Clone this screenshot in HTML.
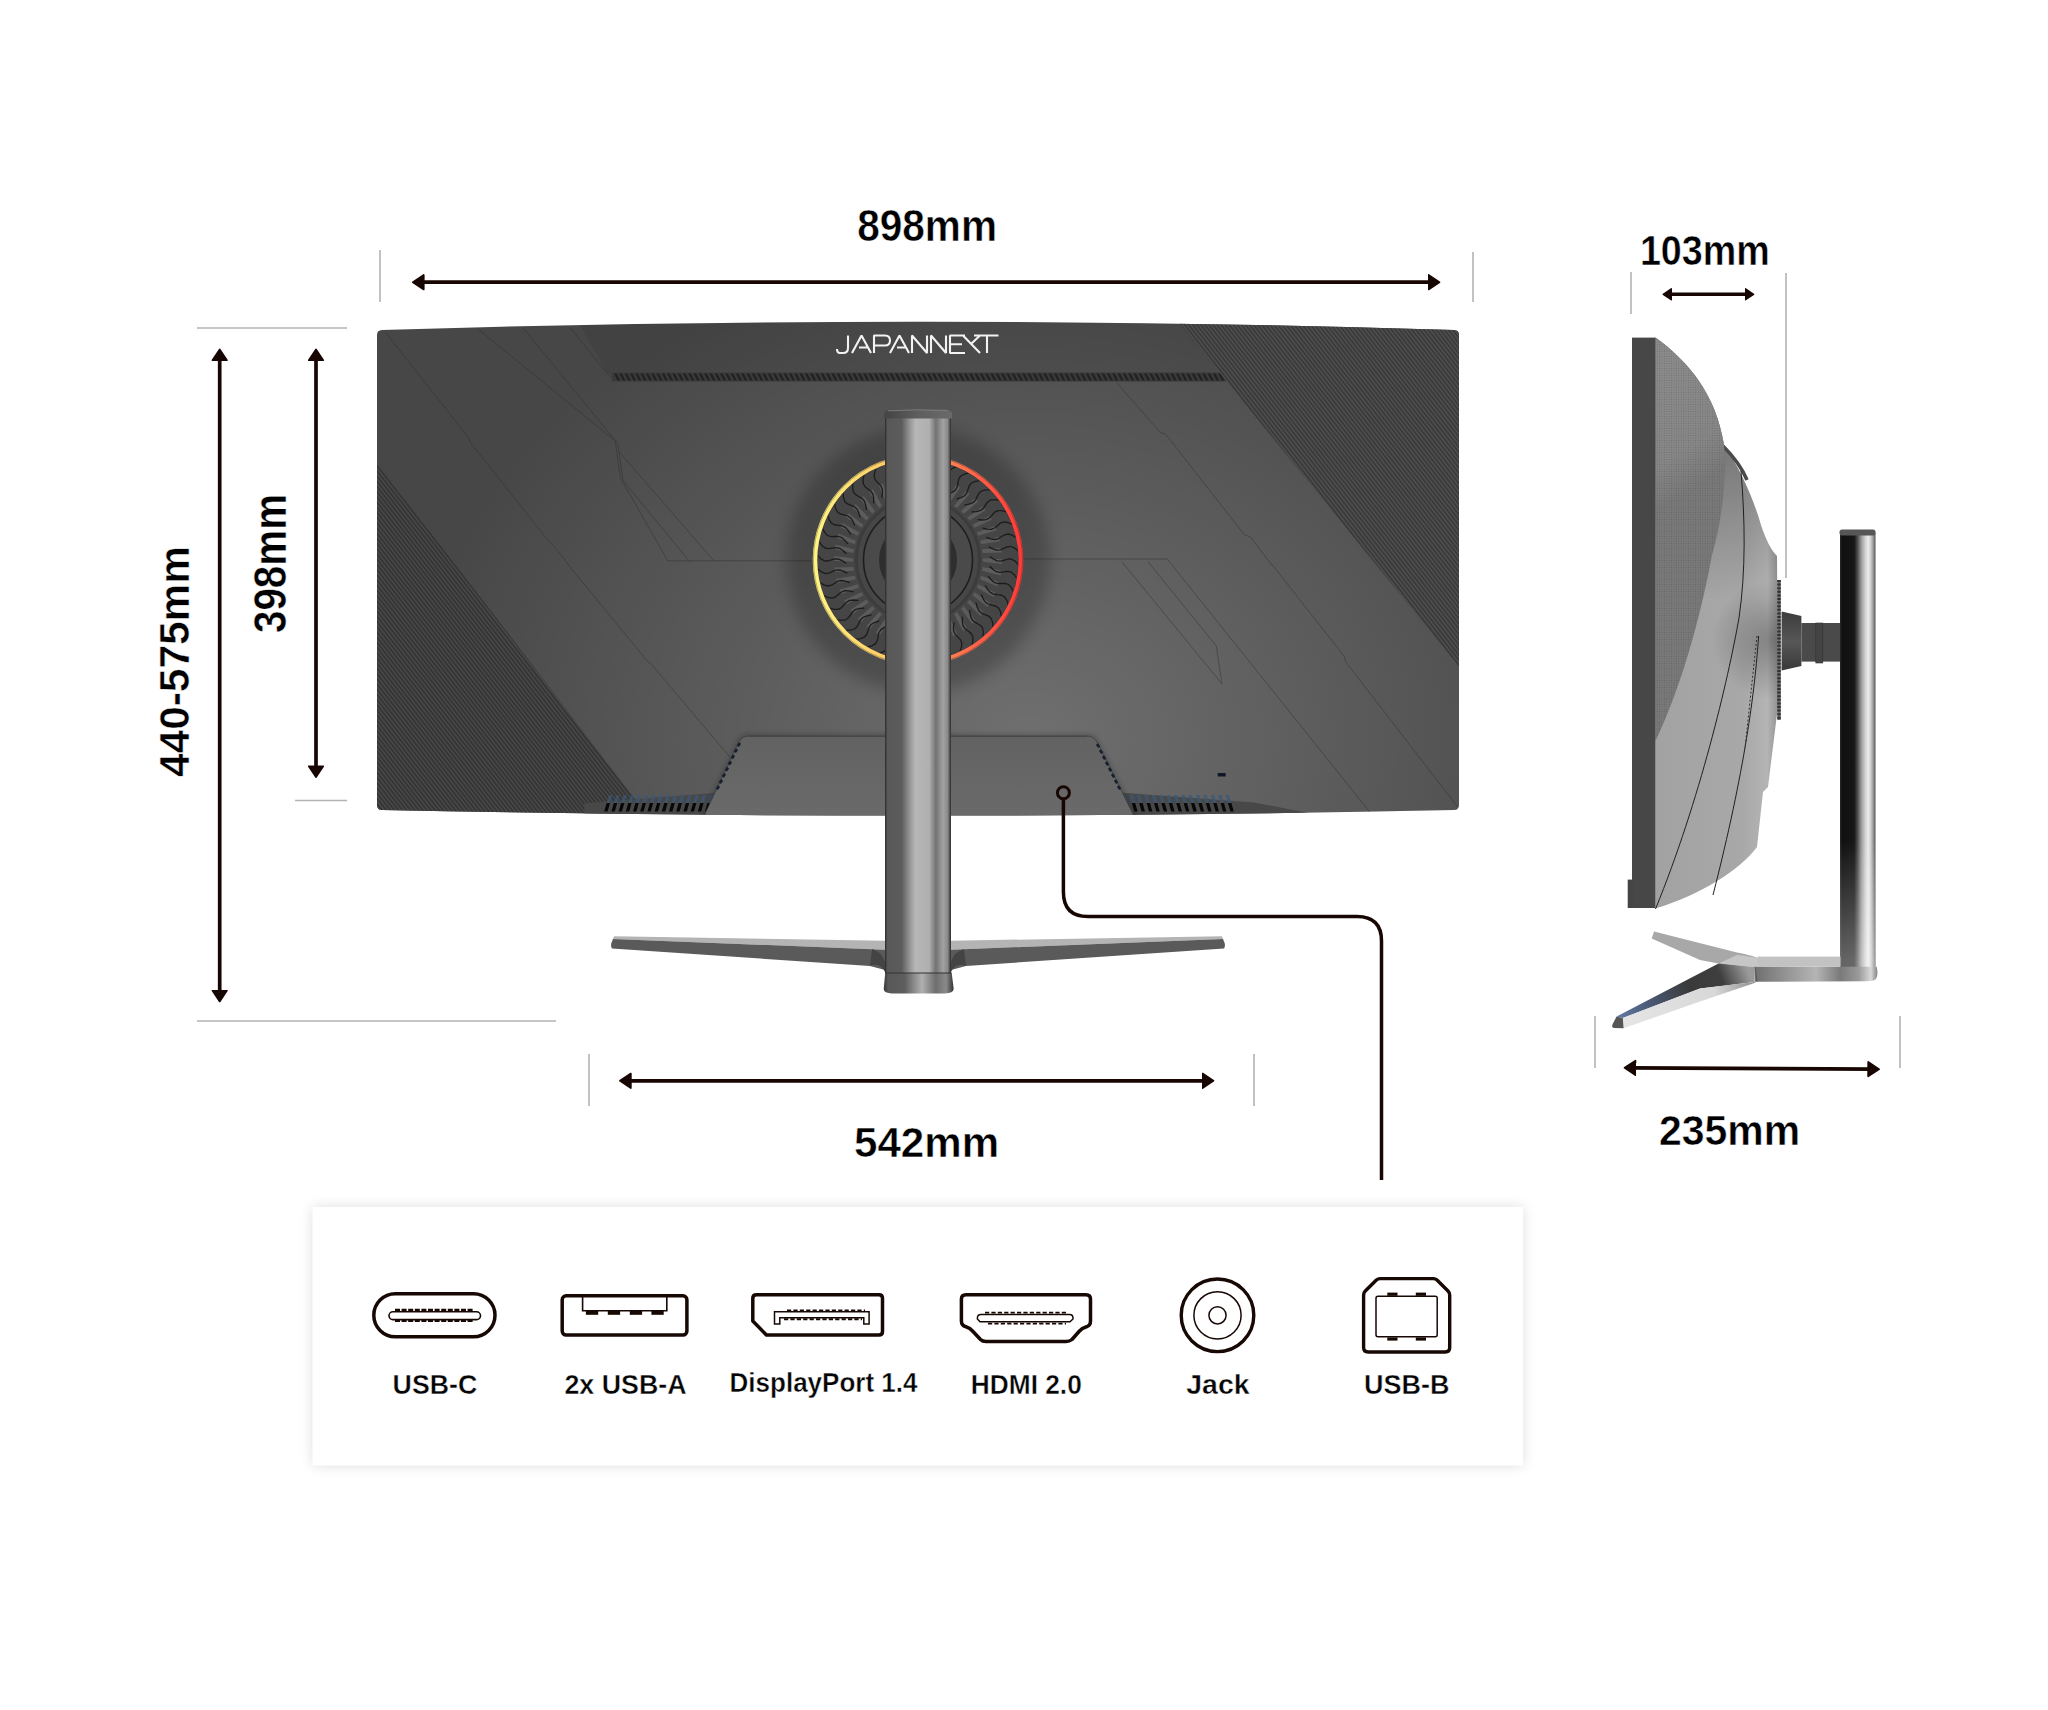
<!DOCTYPE html>
<html><head><meta charset="utf-8">
<style>
html,body{margin:0;padding:0;background:#fff;}
body{width:2048px;height:1710px;overflow:hidden;position:relative;}
svg{position:absolute;left:0;top:0;}
text{font-family:"Liberation Sans",sans-serif;font-weight:bold;}
</style></head><body>
<svg width="2048" height="1710" viewBox="0 0 2048 1710">
<defs>
  <marker id="ah" viewBox="0 0 13 17" refX="6.5" refY="8.5" markerWidth="13" markerHeight="17" markerUnits="userSpaceOnUse" orient="auto-start-reverse">
    <path d="M1.1 1.3 L11.9 8.5 L1.1 15.7 Z" fill="#170602" stroke="#170602" stroke-width="1.8" stroke-linejoin="round"/>
  </marker>
  <marker id="ahs" viewBox="0 0 10 13" refX="5" refY="6.5" markerWidth="10" markerHeight="13" markerUnits="userSpaceOnUse" orient="auto-start-reverse">
    <path d="M1 1.1 L9 6.5 L1 11.9 Z" fill="#170602" stroke="#170602" stroke-width="1.6" stroke-linejoin="round"/>
  </marker>
  <filter id="boxsh" x="-5%" y="-20%" width="110%" height="140%"><feGaussianBlur stdDeviation="7"/></filter>
  <filter id="blur2" x="-20%" y="-20%" width="140%" height="140%"><feGaussianBlur stdDeviation="2"/></filter>
  <filter id="blur6" x="-50%" y="-50%" width="200%" height="200%"><feGaussianBlur stdDeviation="8"/></filter>
  <pattern id="stripes" patternUnits="userSpaceOnUse" width="3.2" height="10" patternTransform="rotate(-38)">
    <rect width="3.2" height="10" fill="#474747"/>
    <rect width="1.5" height="10" fill="#333"/>
  </pattern>
  <pattern id="stripes2" patternUnits="userSpaceOnUse" width="3.2" height="10" patternTransform="rotate(-38)">
    <rect width="3.2" height="10" fill="#4d4d4d"/>
    <rect width="1.5" height="10" fill="#383838"/>
  </pattern>
  <pattern id="vent" patternUnits="userSpaceOnUse" width="5.4" height="10" patternTransform="rotate(-35)">
    <rect width="5.4" height="10" fill="#4a4a4a"/>
    <rect width="2.6" height="10" fill="#242424"/>
  </pattern>
  <radialGradient id="backg" gradientUnits="userSpaceOnUse" cx="1010" cy="740" r="620" fx="1010" fy="740">
    <stop offset="0" stop-color="#6f6f6f"/>
    <stop offset="0.45" stop-color="#5c5c5c"/>
    <stop offset="1" stop-color="#444"/>
  </radialGradient>
  <linearGradient id="topband" x1="0" y1="0" x2="0" y2="1">
    <stop offset="0" stop-color="#474747"/>
    <stop offset="1" stop-color="#424242"/>
  </linearGradient>
  <radialGradient id="ringsh" gradientUnits="userSpaceOnUse" cx="918" cy="560" r="160">
    <stop offset="0.6" stop-color="#000" stop-opacity="0.45"/>
    <stop offset="0.75" stop-color="#000" stop-opacity="0.22"/>
    <stop offset="1" stop-color="#000" stop-opacity="0"/>
  </radialGradient>
  <linearGradient id="ringc" gradientUnits="userSpaceOnUse" x1="815" y1="560" x2="1021" y2="560">
    <stop offset="0" stop-color="#fff484"/>
    <stop offset="0.3" stop-color="#ffd068"/>
    <stop offset="0.55" stop-color="#ff9858"/>
    <stop offset="0.8" stop-color="#ff6048"/>
    <stop offset="1" stop-color="#ff3a38"/>
  </linearGradient>
  <linearGradient id="colg" gradientUnits="userSpaceOnUse" x1="885" y1="0" x2="951" y2="0">
    <stop offset="0" stop-color="#2a2a2a"/>
    <stop offset="0.035" stop-color="#585858"/>
    <stop offset="0.25" stop-color="#5c5c5c"/>
    <stop offset="0.38" stop-color="#989898"/>
    <stop offset="0.46" stop-color="#b6b6b6"/>
    <stop offset="0.67" stop-color="#b0b0b0"/>
    <stop offset="0.77" stop-color="#727272"/>
    <stop offset="0.88" stop-color="#a2a2a2"/>
    <stop offset="0.95" stop-color="#8a8a8a"/>
    <stop offset="1" stop-color="#2a2a2a"/>
  </linearGradient>
  <linearGradient id="houseg" gradientUnits="userSpaceOnUse" x1="0" y1="736" x2="0" y2="816">
    <stop offset="0" stop-color="#626262"/>
    <stop offset="1" stop-color="#6a6a6a"/>
  </linearGradient>
  <clipPath id="monclip">
    <path d="M382 330 Q918 313.4 1454 330 Q1459 330.2 1459 335 L1459 805 Q1459 810 1454 810 Q918 821.2 382 810 Q377 810 377 805 L377 335 Q377 330.2 382 330 Z"/>
  </clipPath>
</defs>

<g stroke="#b3b3b3" stroke-width="1.6" fill="none">
  <line x1="380" y1="250" x2="380" y2="302"/>
  <line x1="1473" y1="252" x2="1473" y2="302"/>
  <line x1="197" y1="328" x2="347" y2="328"/>
  <line x1="295" y1="800.5" x2="347" y2="800.5"/>
  <line x1="197" y1="1021" x2="556" y2="1021"/>
  <line x1="589" y1="1054" x2="589" y2="1106"/>
  <line x1="1254" y1="1054" x2="1254" y2="1106"/>
  <line x1="1631" y1="272" x2="1631" y2="314"/>
  <line x1="1786" y1="273" x2="1786" y2="578"/>
  <line x1="1595" y1="1016" x2="1595" y2="1068"/>
  <line x1="1900" y1="1016" x2="1900" y2="1068"/>
</g>

<g stroke="#170602" stroke-width="3.7" fill="none" marker-start="url(#ah)" marker-end="url(#ah)">
  <line x1="418.3" y1="282.2" x2="1434" y2="282.2"/>
  <line x1="219.7" y1="354.8" x2="219.7" y2="996"/>
  <line x1="316" y1="354.8" x2="316" y2="771.7"/>
  <line x1="625.4" y1="1080.8" x2="1208" y2="1080.8"/>
  <line x1="1630" y1="1067.9" x2="1873.6" y2="1069.2"/>
</g>
<g stroke="#170602" stroke-width="3.4" fill="none" marker-start="url(#ahs)" marker-end="url(#ahs)">
  <line x1="1667.3" y1="294.3" x2="1749.5" y2="294.3"/>
</g>

<g fill="#000" stroke="#fff" stroke-width="0.5">
  <text x="857.2" y="240.5" font-size="44" textLength="139.8" lengthAdjust="spacingAndGlyphs">898mm</text>
  <text x="854" y="1156.5" font-size="43" textLength="145.1" lengthAdjust="spacingAndGlyphs">542mm</text>
  <text x="1639.9" y="264.5" font-size="42" textLength="129.9" lengthAdjust="spacingAndGlyphs">103mm</text>
  <text x="1659" y="1144.5" font-size="43" textLength="141.1" lengthAdjust="spacingAndGlyphs">235mm</text>
  <text transform="translate(188.5,777) rotate(-90)" x="0" y="0" font-size="43" textLength="231" lengthAdjust="spacingAndGlyphs">440-575mm</text>
  <text transform="translate(286.3,633) rotate(-90)" x="0" y="0" font-size="46" textLength="139" lengthAdjust="spacingAndGlyphs">398mm</text>
</g>

<defs>
  <radialGradient id="lite" gradientUnits="userSpaceOnUse" cx="1030" cy="740" r="540" gradientTransform="translate(1030 740) scale(1.15 0.95) translate(-1030 -740)">
    <stop offset="0" stop-color="#fff" stop-opacity="0.22"/>
    <stop offset="0.5" stop-color="#fff" stop-opacity="0.11"/>
    <stop offset="1" stop-color="#fff" stop-opacity="0"/>
  </radialGradient>
  <linearGradient id="darktop" x1="0" y1="0" x2="0" y2="1">
    <stop offset="0" stop-color="#000" stop-opacity="0.06"/>
    <stop offset="1" stop-color="#000" stop-opacity="0"/>
  </linearGradient>
</defs>
<g clip-path="url(#monclip)">
<rect x="370" y="310" width="1100" height="520" fill="#474747"/>
<rect x="370" y="310" width="1100" height="520" fill="url(#lite)"/>
<path d="M571 310 L1175 310 L1225 381 L612 381 Z" fill="#000" opacity="0.07"/>
<rect x="612" y="372.5" width="614" height="9" fill="#3a3a3a"/>
<path d="M614.0 373.5 L616.6 373.5 L620.2 380.5 L617.6 380.5 Z M619.3 373.5 L621.9 373.5 L625.5 380.5 L622.9 380.5 Z M624.6 373.5 L627.2 373.5 L630.8 380.5 L628.2 380.5 Z M629.9 373.5 L632.5 373.5 L636.1 380.5 L633.5 380.5 Z M635.2 373.5 L637.8 373.5 L641.4 380.5 L638.8 380.5 Z M640.5 373.5 L643.1 373.5 L646.7 380.5 L644.1 380.5 Z M645.8 373.5 L648.4 373.5 L652.0 380.5 L649.4 380.5 Z M651.1 373.5 L653.7 373.5 L657.3 380.5 L654.7 380.5 Z M656.4 373.5 L659.0 373.5 L662.6 380.5 L660.0 380.5 Z M661.7 373.5 L664.3 373.5 L667.9 380.5 L665.3 380.5 Z M667.0 373.5 L669.6 373.5 L673.2 380.5 L670.6 380.5 Z M672.3 373.5 L674.9 373.5 L678.5 380.5 L675.9 380.5 Z M677.6 373.5 L680.2 373.5 L683.8 380.5 L681.2 380.5 Z M682.9 373.5 L685.5 373.5 L689.1 380.5 L686.5 380.5 Z M688.2 373.5 L690.8 373.5 L694.4 380.5 L691.8 380.5 Z M693.5 373.5 L696.1 373.5 L699.7 380.5 L697.1 380.5 Z M698.8 373.5 L701.4 373.5 L705.0 380.5 L702.4 380.5 Z M704.1 373.5 L706.7 373.5 L710.3 380.5 L707.7 380.5 Z M709.4 373.5 L712.0 373.5 L715.6 380.5 L713.0 380.5 Z M714.7 373.5 L717.3 373.5 L720.9 380.5 L718.3 380.5 Z M720.0 373.5 L722.6 373.5 L726.2 380.5 L723.6 380.5 Z M725.3 373.5 L727.9 373.5 L731.5 380.5 L728.9 380.5 Z M730.6 373.5 L733.2 373.5 L736.8 380.5 L734.2 380.5 Z M735.9 373.5 L738.5 373.5 L742.1 380.5 L739.5 380.5 Z M741.2 373.5 L743.8 373.5 L747.4 380.5 L744.8 380.5 Z M746.5 373.5 L749.1 373.5 L752.7 380.5 L750.1 380.5 Z M751.8 373.5 L754.4 373.5 L758.0 380.5 L755.4 380.5 Z M757.1 373.5 L759.7 373.5 L763.3 380.5 L760.7 380.5 Z M762.4 373.5 L765.0 373.5 L768.6 380.5 L766.0 380.5 Z M767.7 373.5 L770.3 373.5 L773.9 380.5 L771.3 380.5 Z M773.0 373.5 L775.6 373.5 L779.2 380.5 L776.6 380.5 Z M778.3 373.5 L780.9 373.5 L784.5 380.5 L781.9 380.5 Z M783.6 373.5 L786.2 373.5 L789.8 380.5 L787.2 380.5 Z M788.9 373.5 L791.5 373.5 L795.1 380.5 L792.5 380.5 Z M794.2 373.5 L796.8 373.5 L800.4 380.5 L797.8 380.5 Z M799.5 373.5 L802.1 373.5 L805.7 380.5 L803.1 380.5 Z M804.8 373.5 L807.4 373.5 L811.0 380.5 L808.4 380.5 Z M810.1 373.5 L812.7 373.5 L816.3 380.5 L813.7 380.5 Z M815.4 373.5 L818.0 373.5 L821.6 380.5 L819.0 380.5 Z M820.7 373.5 L823.3 373.5 L826.9 380.5 L824.3 380.5 Z M826.0 373.5 L828.6 373.5 L832.2 380.5 L829.6 380.5 Z M831.3 373.5 L833.9 373.5 L837.5 380.5 L834.9 380.5 Z M836.6 373.5 L839.2 373.5 L842.8 380.5 L840.2 380.5 Z M841.9 373.5 L844.5 373.5 L848.1 380.5 L845.5 380.5 Z M847.2 373.5 L849.8 373.5 L853.4 380.5 L850.8 380.5 Z M852.5 373.5 L855.1 373.5 L858.7 380.5 L856.1 380.5 Z M857.8 373.5 L860.4 373.5 L864.0 380.5 L861.4 380.5 Z M863.1 373.5 L865.7 373.5 L869.3 380.5 L866.7 380.5 Z M868.4 373.5 L871.0 373.5 L874.6 380.5 L872.0 380.5 Z M873.7 373.5 L876.3 373.5 L879.9 380.5 L877.3 380.5 Z M879.0 373.5 L881.6 373.5 L885.2 380.5 L882.6 380.5 Z M884.3 373.5 L886.9 373.5 L890.5 380.5 L887.9 380.5 Z M889.6 373.5 L892.2 373.5 L895.8 380.5 L893.2 380.5 Z M894.9 373.5 L897.5 373.5 L901.1 380.5 L898.5 380.5 Z M900.2 373.5 L902.8 373.5 L906.4 380.5 L903.8 380.5 Z M905.5 373.5 L908.1 373.5 L911.7 380.5 L909.1 380.5 Z M910.8 373.5 L913.4 373.5 L917.0 380.5 L914.4 380.5 Z M916.1 373.5 L918.7 373.5 L922.3 380.5 L919.7 380.5 Z M921.4 373.5 L924.0 373.5 L927.6 380.5 L925.0 380.5 Z M926.7 373.5 L929.3 373.5 L932.9 380.5 L930.3 380.5 Z M932.0 373.5 L934.6 373.5 L938.2 380.5 L935.6 380.5 Z M937.3 373.5 L939.9 373.5 L943.5 380.5 L940.9 380.5 Z M942.6 373.5 L945.2 373.5 L948.8 380.5 L946.2 380.5 Z M947.9 373.5 L950.5 373.5 L954.1 380.5 L951.5 380.5 Z M953.2 373.5 L955.8 373.5 L959.4 380.5 L956.8 380.5 Z M958.5 373.5 L961.1 373.5 L964.7 380.5 L962.1 380.5 Z M963.8 373.5 L966.4 373.5 L970.0 380.5 L967.4 380.5 Z M969.1 373.5 L971.7 373.5 L975.3 380.5 L972.7 380.5 Z M974.4 373.5 L977.0 373.5 L980.6 380.5 L978.0 380.5 Z M979.7 373.5 L982.3 373.5 L985.9 380.5 L983.3 380.5 Z M985.0 373.5 L987.6 373.5 L991.2 380.5 L988.6 380.5 Z M990.3 373.5 L992.9 373.5 L996.5 380.5 L993.9 380.5 Z M995.6 373.5 L998.2 373.5 L1001.8 380.5 L999.2 380.5 Z M1000.9 373.5 L1003.5 373.5 L1007.1 380.5 L1004.5 380.5 Z M1006.2 373.5 L1008.8 373.5 L1012.4 380.5 L1009.8 380.5 Z M1011.5 373.5 L1014.1 373.5 L1017.7 380.5 L1015.1 380.5 Z M1016.8 373.5 L1019.4 373.5 L1023.0 380.5 L1020.4 380.5 Z M1022.1 373.5 L1024.7 373.5 L1028.3 380.5 L1025.7 380.5 Z M1027.4 373.5 L1030.0 373.5 L1033.6 380.5 L1031.0 380.5 Z M1032.7 373.5 L1035.3 373.5 L1038.9 380.5 L1036.3 380.5 Z M1038.0 373.5 L1040.6 373.5 L1044.2 380.5 L1041.6 380.5 Z M1043.3 373.5 L1045.9 373.5 L1049.5 380.5 L1046.9 380.5 Z M1048.6 373.5 L1051.2 373.5 L1054.8 380.5 L1052.2 380.5 Z M1053.9 373.5 L1056.5 373.5 L1060.1 380.5 L1057.5 380.5 Z M1059.2 373.5 L1061.8 373.5 L1065.4 380.5 L1062.8 380.5 Z M1064.5 373.5 L1067.1 373.5 L1070.7 380.5 L1068.1 380.5 Z M1069.8 373.5 L1072.4 373.5 L1076.0 380.5 L1073.4 380.5 Z M1075.1 373.5 L1077.7 373.5 L1081.3 380.5 L1078.7 380.5 Z M1080.4 373.5 L1083.0 373.5 L1086.6 380.5 L1084.0 380.5 Z M1085.7 373.5 L1088.3 373.5 L1091.9 380.5 L1089.3 380.5 Z M1091.0 373.5 L1093.6 373.5 L1097.2 380.5 L1094.6 380.5 Z M1096.3 373.5 L1098.9 373.5 L1102.5 380.5 L1099.9 380.5 Z M1101.6 373.5 L1104.2 373.5 L1107.8 380.5 L1105.2 380.5 Z M1106.9 373.5 L1109.5 373.5 L1113.1 380.5 L1110.5 380.5 Z M1112.2 373.5 L1114.8 373.5 L1118.4 380.5 L1115.8 380.5 Z M1117.5 373.5 L1120.1 373.5 L1123.7 380.5 L1121.1 380.5 Z M1122.8 373.5 L1125.4 373.5 L1129.0 380.5 L1126.4 380.5 Z M1128.1 373.5 L1130.7 373.5 L1134.3 380.5 L1131.7 380.5 Z M1133.4 373.5 L1136.0 373.5 L1139.6 380.5 L1137.0 380.5 Z M1138.7 373.5 L1141.3 373.5 L1144.9 380.5 L1142.3 380.5 Z M1144.0 373.5 L1146.6 373.5 L1150.2 380.5 L1147.6 380.5 Z M1149.3 373.5 L1151.9 373.5 L1155.5 380.5 L1152.9 380.5 Z M1154.6 373.5 L1157.2 373.5 L1160.8 380.5 L1158.2 380.5 Z M1159.9 373.5 L1162.5 373.5 L1166.1 380.5 L1163.5 380.5 Z M1165.2 373.5 L1167.8 373.5 L1171.4 380.5 L1168.8 380.5 Z M1170.5 373.5 L1173.1 373.5 L1176.7 380.5 L1174.1 380.5 Z M1175.8 373.5 L1178.4 373.5 L1182.0 380.5 L1179.4 380.5 Z M1181.1 373.5 L1183.7 373.5 L1187.3 380.5 L1184.7 380.5 Z M1186.4 373.5 L1189.0 373.5 L1192.6 380.5 L1190.0 380.5 Z M1191.7 373.5 L1194.3 373.5 L1197.9 380.5 L1195.3 380.5 Z M1197.0 373.5 L1199.6 373.5 L1203.2 380.5 L1200.6 380.5 Z M1202.3 373.5 L1204.9 373.5 L1208.5 380.5 L1205.9 380.5 Z M1207.6 373.5 L1210.2 373.5 L1213.8 380.5 L1211.2 380.5 Z M1212.9 373.5 L1215.5 373.5 L1219.1 380.5 L1216.5 380.5 Z M1218.2 373.5 L1220.8 373.5 L1224.4 380.5 L1221.8 380.5 Z M1223.5 373.5 L1226.1 373.5 L1229.7 380.5 L1227.1 380.5 Z" fill="#222"/>
<path d="M370 455 L377 462.3 L645 812 L370 830 Z" fill="url(#stripes)"/>
<path d="M1175 318 L1470 318 L1470 680 L1459 666.5 Z" fill="url(#stripes2)"/>
<g stroke="#2e2e2e" stroke-width="0.9" fill="none" opacity="0.5">
<path d="M386.2 333.2 L469.1 438.4 L470.4 442.4 L545.4 537.1 L558.6 551.6 L570.4 567.4 L648 662 L650.7 663.4 L729.6 756.8"/>
<path d="M478.3 329.2 L615.2 441 L620.4 477.9 L667.8 560.8 L814 560.8"/>
<path d="M523 327.9 L617.8 443.7 L623 480.5 L690 562"/>
<path d="M619 451.6 L713.8 560.8"/>
<path d="M570.4 327.9 L608.6 375.3"/>
<path d="M1116.7 382.6 L1160.5 432.8 L1165.6 434 L1244 534.4 L1250.5 537 L1271 564 L1273.7 566.6 L1344.5 656.6 L1345.7 661.8 L1457.7 807"/>
<path d="M1022 559 L1168 559"/>
<path d="M1121.8 561.7 L1222 684 L1216.3 646 L1148 561.7"/>
<path d="M1168 560 L1370 812.3"/>
</g>
<circle cx="918" cy="560" r="132" fill="#000" opacity="0.22" filter="url(#blur6)"/>
<path d="M584.4 803.2 L714.3 793 L706 816 L584.4 816 Z" fill="#484848"/>
<path d="M1122 792.8 L1254 802.5 L1324 816 L1131 816 Z" fill="#484848"/>
<path d="M606.6 803 L610.0 803 L607.6 811.5 L604.2 811.5 Z M613.8 803 L617.2 803 L614.8 811.5 L611.4 811.5 Z M621.0 803 L624.4 803 L622.0 811.5 L618.6 811.5 Z M628.2 803 L631.6 803 L629.2 811.5 L625.8 811.5 Z M635.4 803 L638.8 803 L636.4 811.5 L633.0 811.5 Z M642.6 803 L646.0 803 L643.6 811.5 L640.2 811.5 Z M649.8 803 L653.2 803 L650.8 811.5 L647.4 811.5 Z M657.0 803 L660.4 803 L658.0 811.5 L654.6 811.5 Z M664.2 803 L667.6 803 L665.2 811.5 L661.8 811.5 Z M671.4 803 L674.8 803 L672.4 811.5 L669.0 811.5 Z M678.6 803 L682.0 803 L679.6 811.5 L676.2 811.5 Z M685.8 803 L689.2 803 L686.8 811.5 L683.4 811.5 Z M693.0 803 L696.4 803 L694.0 811.5 L690.6 811.5 Z M700.2 803 L703.6 803 L701.2 811.5 L697.8 811.5 Z M707.4 803 L710.8 803 L708.4 811.5 L705.0 811.5 Z M1124.4 803 L1127.8 803 L1130.2 811.5 L1126.8 811.5 Z M1131.8 803 L1135.2 803 L1137.6 811.5 L1134.2 811.5 Z M1139.2 803 L1142.6 803 L1145.0 811.5 L1141.6 811.5 Z M1146.6 803 L1150.0 803 L1152.4 811.5 L1149.0 811.5 Z M1154.0 803 L1157.4 803 L1159.8 811.5 L1156.4 811.5 Z M1161.4 803 L1164.8 803 L1167.2 811.5 L1163.8 811.5 Z M1168.8 803 L1172.2 803 L1174.6 811.5 L1171.2 811.5 Z M1176.2 803 L1179.6 803 L1182.0 811.5 L1178.6 811.5 Z M1183.6 803 L1187.0 803 L1189.4 811.5 L1186.0 811.5 Z M1191.0 803 L1194.4 803 L1196.8 811.5 L1193.4 811.5 Z M1198.4 803 L1201.8 803 L1204.2 811.5 L1200.8 811.5 Z M1205.8 803 L1209.2 803 L1211.6 811.5 L1208.2 811.5 Z M1213.2 803 L1216.6 803 L1219.0 811.5 L1215.6 811.5 Z M1220.6 803 L1224.0 803 L1226.4 811.5 L1223.0 811.5 Z M1228.0 803 L1231.4 803 L1233.8 811.5 L1230.4 811.5 Z" fill="#080808"/>
<path d="M609.0 795.5 L612.4 795 L610.0 803 L606.6 803 Z M616.2 795.5 L619.6 795 L617.2 803 L613.8 803 Z M623.4 795.5 L626.8 795 L624.4 803 L621.0 803 Z M630.6 795.5 L634.0 795 L631.6 803 L628.2 803 Z M637.8 795.5 L641.2 795 L638.8 803 L635.4 803 Z M645.0 795.5 L648.4 795 L646.0 803 L642.6 803 Z M652.2 795.5 L655.6 795 L653.2 803 L649.8 803 Z M659.4 795.5 L662.8 795 L660.4 803 L657.0 803 Z M666.6 795.5 L670.0 795 L667.6 803 L664.2 803 Z M673.8 795.5 L677.2 795 L674.8 803 L671.4 803 Z M681.0 795.5 L684.4 795 L682.0 803 L678.6 803 Z M688.2 795.5 L691.6 795 L689.2 803 L685.8 803 Z M695.4 795.5 L698.8 795 L696.4 803 L693.0 803 Z M702.6 795.5 L706.0 795 L703.6 803 L700.2 803 Z M709.8 795.5 L713.2 795 L710.8 803 L707.4 803 Z M1122.0 795 L1125.4 795 L1127.8 803 L1124.4 803 Z M1129.4 795 L1132.8 795 L1135.2 803 L1131.8 803 Z M1136.8 795 L1140.2 795 L1142.6 803 L1139.2 803 Z M1144.2 795 L1147.6 795 L1150.0 803 L1146.6 803 Z M1151.6 795 L1155.0 795 L1157.4 803 L1154.0 803 Z M1159.0 795 L1162.4 795 L1164.8 803 L1161.4 803 Z M1166.4 795 L1169.8 795 L1172.2 803 L1168.8 803 Z M1173.8 795 L1177.2 795 L1179.6 803 L1176.2 803 Z M1181.2 795 L1184.6 795 L1187.0 803 L1183.6 803 Z M1188.6 795 L1192.0 795 L1194.4 803 L1191.0 803 Z M1196.0 795 L1199.4 795 L1201.8 803 L1198.4 803 Z M1203.4 795 L1206.8 795 L1209.2 803 L1205.8 803 Z M1210.8 795 L1214.2 795 L1216.6 803 L1213.2 803 Z M1218.2 795 L1221.6 795 L1224.0 803 L1220.6 803 Z M1225.6 795 L1229.0 795 L1231.4 803 L1228.0 803 Z" fill="#3a5878" opacity="0.75"/>
</g>
<circle cx="918" cy="560" r="103" fill="#454545"/>
<path d="M983.0 558.2 L1002.0 559.3 L1001.9 564.0 L983.0 561.8 Z M982.6 567.0 L1001.3 570.8 L1000.6 575.4 L982.1 570.7 Z M981.1 575.8 L999.1 582.0 L997.7 586.5 L980.1 579.3 Z M978.3 584.2 L995.3 592.8 L993.4 597.1 L976.9 587.6 Z M974.5 592.2 L990.1 603.1 L987.6 607.0 L972.6 595.3 Z M969.5 599.6 L983.6 612.5 L980.5 616.1 L967.3 602.4 Z M963.7 606.2 L975.8 620.9 L972.3 624.1 L961.0 608.7 Z M957.0 612.0 L967.0 628.2 L963.1 630.9 L954.0 614.1 Z M949.5 616.9 L957.2 634.3 L953.0 636.4 L946.3 618.5 Z M941.5 620.6 L946.8 638.9 L942.3 640.4 L938.0 621.8 Z M933.0 623.2 L935.7 642.1 L931.1 643.0 L929.4 624.0 Z M924.2 624.7 L924.4 643.8 L919.7 644.0 L920.6 624.9 Z M915.4 624.9 L912.9 643.8 L908.3 643.4 L911.8 624.7 Z M906.6 624.0 L901.6 642.4 L897.0 641.3 L903.0 623.2 Z M898.0 621.8 L890.5 639.4 L886.1 637.7 L894.5 620.6 Z M889.7 618.5 L880.0 634.9 L875.8 632.6 L886.5 616.9 Z M882.0 614.1 L870.1 629.0 L866.3 626.2 L879.0 612.0 Z M875.0 608.7 L861.2 621.8 L857.8 618.6 L872.3 606.2 Z M868.7 602.4 L853.3 613.5 L850.4 609.8 L866.5 599.6 Z M863.4 595.3 L846.6 604.2 L844.2 600.2 L861.5 592.2 Z M859.1 587.6 L841.2 594.1 L839.4 589.7 L857.7 584.2 Z M855.9 579.3 L837.3 583.3 L836.1 578.8 L854.9 575.8 Z M853.9 570.7 L834.9 572.1 L834.3 567.4 L853.4 567.0 Z M853.0 561.8 L834.0 560.7 L834.1 556.0 L853.0 558.2 Z M853.4 553.0 L834.7 549.2 L835.4 544.6 L853.9 549.3 Z M854.9 544.2 L836.9 538.0 L838.3 533.5 L855.9 540.7 Z M857.7 535.8 L840.7 527.2 L842.6 522.9 L859.1 532.4 Z M861.5 527.8 L845.9 516.9 L848.4 513.0 L863.4 524.7 Z M866.5 520.4 L852.4 507.5 L855.5 503.9 L868.7 517.6 Z M872.3 513.8 L860.2 499.1 L863.7 495.9 L875.0 511.3 Z M879.0 508.0 L869.0 491.8 L872.9 489.1 L882.0 505.9 Z M886.5 503.1 L878.8 485.7 L883.0 483.6 L889.7 501.5 Z M894.5 499.4 L889.2 481.1 L893.7 479.6 L898.0 498.2 Z M903.0 496.8 L900.3 477.9 L904.9 477.0 L906.6 496.0 Z M911.8 495.3 L911.6 476.2 L916.3 476.0 L915.4 495.1 Z M920.6 495.1 L923.1 476.2 L927.7 476.6 L924.2 495.3 Z M929.4 496.0 L934.4 477.6 L939.0 478.7 L933.0 496.8 Z M938.0 498.2 L945.5 480.6 L949.9 482.3 L941.5 499.4 Z M946.3 501.5 L956.0 485.1 L960.2 487.4 L949.5 503.1 Z M954.0 505.9 L965.9 491.0 L969.7 493.8 L957.0 508.0 Z M961.0 511.3 L974.8 498.2 L978.2 501.4 L963.7 513.8 Z M967.3 517.6 L982.7 506.5 L985.6 510.2 L969.5 520.4 Z M972.6 524.7 L989.4 515.8 L991.8 519.8 L974.5 527.8 Z M976.9 532.4 L994.8 525.9 L996.6 530.3 L978.3 535.8 Z M980.1 540.7 L998.7 536.7 L999.9 541.2 L981.1 544.2 Z M982.1 549.3 L1001.1 547.9 L1001.7 552.6 L982.6 553.0 Z" fill="#5c5c5c"/>
<path d="M989.7 566.3 L993.0 569.5 L996.4 571.7 L999.9 572.4 L1003.7 571.9 L1007.4 571.3 L1011.0 572.0 L1014.3 574.7 L1017.2 578.9 M988.2 576.1 L991.0 579.6 L994.1 582.3 L997.5 583.5 L1001.3 583.5 L1005.0 583.4 L1008.5 584.5 L1011.4 587.6 L1013.7 592.2 M985.3 585.5 L987.7 589.4 L990.3 592.4 L993.5 594.1 L997.3 594.6 L1001.0 595.0 L1004.3 596.6 L1006.7 600.1 L1008.4 605.0 M981.3 594.4 L983.0 598.6 L985.2 602.0 L988.2 604.0 L991.8 605.1 L995.5 606.0 L998.5 608.0 L1000.5 611.8 L1001.5 616.9 M976.0 602.7 L977.2 607.1 L978.9 610.7 L981.6 613.2 L985.0 614.7 L988.5 616.1 L991.2 618.6 L992.6 622.5 L992.9 627.7 M969.6 610.2 L970.2 614.7 L971.4 618.5 L973.7 621.4 L976.9 623.3 L980.2 625.2 L982.6 628.0 L983.4 632.1 L983.0 637.3 M962.3 616.7 L962.3 621.3 L962.9 625.3 L964.8 628.4 L967.8 630.8 L970.7 633.1 L972.7 636.1 L973.0 640.4 L971.9 645.4 M954.2 622.3 L953.5 626.8 L953.6 630.8 L955.1 634.1 L957.7 636.9 L960.3 639.6 L961.8 642.9 L961.5 647.1 L959.8 652.0 M945.4 626.6 L944.1 631.0 L943.7 635.0 L944.7 638.5 L946.8 641.6 L949.1 644.6 L950.1 648.1 L949.3 652.2 L946.9 656.8 M936.0 629.7 L934.2 633.9 L933.2 637.8 L933.7 641.4 L935.5 644.7 L937.3 648.0 L937.8 651.6 L936.4 655.6 L933.4 659.8 M926.4 631.5 L924.0 635.4 L922.5 639.1 L922.5 642.8 L923.8 646.3 L925.1 649.8 L925.2 653.5 L923.2 657.2 L919.7 661.0 M916.6 632.0 L913.7 635.5 L911.7 639.0 L911.2 642.6 L911.9 646.3 L912.8 650.0 L912.4 653.6 L910.0 657.0 L905.9 660.3 M906.8 631.1 L903.4 634.2 L901.0 637.4 L900.0 640.9 L900.3 644.7 L900.6 648.4 L899.7 651.9 L896.8 655.0 L892.4 657.7 M897.2 628.9 L893.5 631.5 L890.6 634.4 L889.2 637.7 L888.9 641.5 L888.7 645.2 L887.3 648.6 L884.1 651.3 L879.3 653.3 M888.0 625.5 L884.0 627.5 L880.7 629.9 L878.8 633.0 L878.1 636.7 L877.4 640.5 L875.6 643.6 L872.0 645.8 L867.0 647.2 M879.4 620.8 L875.1 622.3 L871.5 624.2 L869.3 627.0 L868.0 630.6 L866.8 634.2 L864.6 637.0 L860.7 638.7 L855.6 639.4 M871.5 614.9 L867.0 615.8 L863.2 617.3 L860.6 619.8 L858.9 623.1 L857.2 626.5 L854.6 629.0 L850.5 630.2 L845.3 630.2 M864.4 608.1 L859.9 608.4 L855.9 609.3 L853.0 611.4 L850.8 614.5 L848.7 617.6 L845.8 619.8 L841.6 620.4 L836.5 619.6 M858.4 600.3 L853.8 600.0 L849.8 600.4 L846.6 602.1 L844.0 604.8 L841.5 607.6 L838.3 609.4 L834.1 609.4 L829.1 607.9 M853.4 591.8 L849.0 590.9 L844.9 590.7 L841.5 592.0 L838.6 594.3 L835.7 596.8 L832.3 598.1 L828.1 597.5 L823.4 595.4 M849.7 582.7 L845.4 581.2 L841.4 580.5 L837.9 581.2 L834.7 583.2 L831.5 585.2 L827.9 586.0 L823.9 584.9 L819.5 582.2 M847.2 573.2 L843.2 571.1 L839.4 569.9 L835.7 570.1 L832.3 571.6 L828.8 573.2 L825.2 573.5 L821.4 571.9 L817.4 568.6 M846.1 563.5 L842.4 560.8 L838.8 559.1 L835.1 558.8 L831.5 559.9 L827.9 561.0 L824.3 560.8 L820.6 558.6 L817.1 554.8 M846.3 553.7 L843.0 550.5 L839.6 548.3 L836.1 547.6 L832.3 548.1 L828.6 548.7 L825.0 548.0 L821.7 545.3 L818.8 541.1 M847.8 543.9 L845.0 540.4 L841.9 537.7 L838.5 536.5 L834.7 536.5 L831.0 536.6 L827.5 535.5 L824.6 532.4 L822.3 527.8 M850.7 534.5 L848.3 530.6 L845.7 527.6 L842.5 525.9 L838.7 525.4 L835.0 525.0 L831.7 523.4 L829.3 519.9 L827.6 515.0 M854.7 525.6 L853.0 521.4 L850.8 518.0 L847.8 516.0 L844.2 514.9 L840.5 514.0 L837.5 512.0 L835.5 508.2 L834.5 503.1 M860.0 517.3 L858.8 512.9 L857.1 509.3 L854.4 506.8 L851.0 505.3 L847.5 503.9 L844.8 501.4 L843.4 497.5 L843.1 492.3 M866.4 509.8 L865.8 505.3 L864.6 501.5 L862.3 498.6 L859.1 496.7 L855.8 494.8 L853.4 492.0 L852.6 487.9 L853.0 482.7 M873.7 503.3 L873.7 498.7 L873.1 494.7 L871.2 491.6 L868.2 489.2 L865.3 486.9 L863.3 483.9 L863.0 479.6 L864.1 474.6 M881.8 497.7 L882.5 493.2 L882.4 489.2 L880.9 485.9 L878.3 483.1 L875.7 480.4 L874.2 477.1 L874.5 472.9 L876.2 468.0 M890.6 493.4 L891.9 489.0 L892.3 485.0 L891.3 481.5 L889.2 478.4 L886.9 475.4 L885.9 471.9 L886.7 467.8 L889.1 463.2 M900.0 490.3 L901.8 486.1 L902.8 482.2 L902.3 478.6 L900.5 475.3 L898.7 472.0 L898.2 468.4 L899.6 464.4 L902.6 460.2 M909.6 488.5 L912.0 484.6 L913.5 480.9 L913.5 477.2 L912.2 473.7 L910.9 470.2 L910.8 466.5 L912.8 462.8 L916.3 459.0 M919.4 488.0 L922.3 484.5 L924.3 481.0 L924.8 477.4 L924.1 473.7 L923.2 470.0 L923.6 466.4 L926.0 463.0 L930.1 459.7 M929.2 488.9 L932.6 485.8 L935.0 482.6 L936.0 479.1 L935.7 475.3 L935.4 471.6 L936.3 468.1 L939.2 465.0 L943.6 462.3 M938.8 491.1 L942.5 488.5 L945.4 485.6 L946.8 482.3 L947.1 478.5 L947.3 474.8 L948.7 471.4 L951.9 468.7 L956.7 466.7 M948.0 494.5 L952.0 492.5 L955.3 490.1 L957.2 487.0 L957.9 483.3 L958.6 479.5 L960.4 476.4 L964.0 474.2 L969.0 472.8 M956.6 499.2 L960.9 497.7 L964.5 495.8 L966.7 493.0 L968.0 489.4 L969.2 485.8 L971.4 483.0 L975.3 481.3 L980.4 480.6 M964.5 505.1 L969.0 504.2 L972.8 502.7 L975.4 500.2 L977.1 496.9 L978.8 493.5 L981.4 491.0 L985.5 489.8 L990.7 489.8 M971.6 511.9 L976.1 511.6 L980.1 510.7 L983.0 508.6 L985.2 505.5 L987.3 502.4 L990.2 500.2 L994.4 499.6 L999.5 500.4 M977.6 519.7 L982.2 520.0 L986.2 519.6 L989.4 517.9 L992.0 515.2 L994.5 512.4 L997.7 510.6 L1001.9 510.6 L1006.9 512.1 M982.6 528.2 L987.0 529.1 L991.1 529.3 L994.5 528.0 L997.4 525.7 L1000.3 523.2 L1003.7 521.9 L1007.9 522.5 L1012.6 524.6 M986.3 537.3 L990.6 538.8 L994.6 539.5 L998.1 538.8 L1001.3 536.8 L1004.5 534.8 L1008.1 534.0 L1012.1 535.1 L1016.5 537.8 M988.8 546.8 L992.8 548.9 L996.6 550.1 L1000.3 549.9 L1003.7 548.4 L1007.2 546.8 L1010.8 546.5 L1014.6 548.1 L1018.6 551.4 M989.9 556.5 L993.6 559.2 L997.2 560.9 L1000.9 561.2 L1004.5 560.1 L1008.1 559.0 L1011.7 559.2 L1015.4 561.4 L1018.9 565.2" stroke="#1c1c1c" stroke-width="1.3" fill="none" stroke-linejoin="round"/>
<circle cx="918" cy="560" r="61.5" fill="#474747" stroke="#3c3c3c" stroke-width="3"/>
<circle cx="918" cy="560" r="54.5" fill="#4a4a4a" stroke="#1e1e1e" stroke-width="1.6"/>
<circle cx="918" cy="560" r="39" fill="#2e2e2e"/>
<circle cx="918" cy="560" r="101" fill="none" stroke="#3a3a3a" stroke-width="1.5"/>
<circle cx="918" cy="560" r="103" fill="none" stroke="url(#ringc)" stroke-width="4.6"/>
<circle cx="918" cy="560" r="104.6" fill="none" stroke="#2a2a2a" stroke-width="0.6" opacity="0.6"/>
<g clip-path="url(#monclip)">
<path d="M703 818 L739 742 Q742 736 749 736 L1087 736 Q1094 736 1097 742 L1135 818 Z" fill="none" stroke="#000" stroke-width="5" opacity="0.18" filter="url(#blur2)"/>
<path d="M703 818 L739 742 Q742 736 749 736 L1087 736 Q1094 736 1097 742 L1135 818 Z" fill="url(#houseg)"/>
<path d="M703 818 L739 742 Q742 736 749 736 L1087 736 Q1094 736 1097 742 L1135 818" fill="none" stroke="#3a3a3a" stroke-width="1" opacity="0.7"/>
<path d="M749 736.5 L1087 736.5" stroke="#3c3c3c" stroke-width="1" opacity="0.5"/>
<path d="M740.0 743.0 L737.8 746.2 M1097.0 744.0 L1099.2 747.2 M737.0 749.1 L734.8 752.3 M1100.0 750.0 L1102.2 753.2 M734.0 755.3 L731.8 758.5 M1103.0 756.0 L1105.2 759.2 M731.0 761.4 L728.8 764.6 M1106.0 762.0 L1108.2 765.2 M728.0 767.6 L725.8 770.8 M1109.0 768.0 L1111.2 771.2 M725.0 773.7 L722.8 776.9 M1112.0 774.0 L1114.2 777.2 M722.0 779.9 L719.8 783.1 M1115.0 780.0 L1117.2 783.2 M719.0 786.0 L716.8 789.2 M1118.0 786.0 L1120.2 789.2" stroke="#182030" stroke-width="2.8" fill="none"/>
<rect x="1217.7" y="773" width="8" height="3.5" fill="#101828"/>
</g>
<path d="M848 335.5 L848 348 Q848 353 843 353 L840 353 Q837 353 837 349 M852.0 353.0 L861.5 335.5 L871.0 353.0 M859.0 347.5 L868.0 347.5 M874 353 L874 335.5 L885 335.5 Q890 335.5 890 340.5 Q890 345.5 885 345.5 L874 345.5 M890.0 353.0 L899.5 335.5 L909.0 353.0 M897.0 347.5 L906.0 347.5 M912.0 353.0 L912.0 335.5 L927.0 353.0 L927.0 335.5 M931.0 353.0 L931.0 335.5 L946.0 353.0 L946.0 335.5 M965.0 335.5 L950.0 335.5 L950.0 353.0 L965.0 353.0 M950.0 344.3 L962.0 344.3 M963.0 335.5 L980.0 353.0 M971.0 344.0 L980.0 335.5 M974.0 335.5 L998.5 335.5 M987.0 335.5 L987.0 353.0" stroke="#f2f2f2" stroke-width="2.1" fill="none" stroke-linejoin="bevel"/>
<defs><linearGradient id="footg" gradientUnits="userSpaceOnUse" x1="884" y1="0" x2="953" y2="0">
    <stop offset="0" stop-color="#3a3a3a"/>
    <stop offset="0.06" stop-color="#585858"/>
    <stop offset="0.3" stop-color="#5e5e5e"/>
    <stop offset="0.55" stop-color="#b0b0b0"/>
    <stop offset="0.75" stop-color="#6e6e6e"/>
    <stop offset="0.9" stop-color="#8a8a8a"/>
    <stop offset="1" stop-color="#3a3a3a"/>
  </linearGradient></defs>
<path d="M614 936.3 L885 940.7 L885 949.7 L613 939 Z" fill="#b4b4b4"/>
<path d="M613 939 L885 949.7 L885 970 L870 966 L612 948.5 Q610.5 946 611.4 943 Z" fill="#5a5a5a"/>
<path d="M1222 936.3 L951 940.7 L951 949.7 L1223 939 Z" fill="#b4b4b4"/>
<path d="M1223 939 L951 949.7 L951 970 L966 966 L1224 948.5 Q1225.5 946 1224.6 943 Z" fill="#5a5a5a"/>
<path d="M872 949 Q882 952 885 962 L885 972 Q880 962 870 966 Z" fill="#444"/>
<path d="M964 949 Q954 952 951 962 L951 972 Q956 962 966 966 Z" fill="#444"/>
<path d="M885 414 Q885 411 888 411 L948 411 Q951 411 951 414 L951 973 L885 973 Z" fill="url(#colg)"/>
<defs><linearGradient id="capg" gradientUnits="userSpaceOnUse" x1="884" y1="0" x2="952" y2="0"><stop offset="0" stop-color="#444"/><stop offset="0.5" stop-color="#5e5e5e"/><stop offset="1" stop-color="#6a6a6a"/></linearGradient></defs>
<path d="M884.2 413 Q886 409.5 892 409.5 L944 409.5 Q950 409.5 952 413 L952 418.4 L884.2 418.4 Z" fill="url(#capg)"/>
<path d="M888 410.8 Q918 408.8 948 410.8" stroke="#7a7a7a" stroke-width="1" fill="none"/>
<path d="M885.2 973 L951.7 973 L953.7 989 Q953 993.4 945 993.4 L892 993.4 Q884 993.4 883.7 989 Z" fill="url(#footg)"/>
<path d="M885.2 973 L951.7 973" stroke="#333" stroke-width="1"/>
<path d="M1063.4 800 L1063.4 892 Q1063.4 916.5 1088 916.5 L1357 916.5 Q1381.5 916.5 1381.5 941 L1381.5 1180" stroke="#170602" stroke-width="3.5" fill="none"/>
<circle cx="1063.4" cy="792.8" r="6" stroke="#170602" stroke-width="3" fill="none"/>
<defs>
  <linearGradient id="shellg" gradientUnits="userSpaceOnUse" x1="1655" y1="0" x2="1780" y2="0">
    <stop offset="0" stop-color="#a2a2a2"/>
    <stop offset="0.7" stop-color="#a8a8a8"/>
    <stop offset="0.9" stop-color="#b4b4b4"/>
    <stop offset="1" stop-color="#8c8c8c"/>
  </linearGradient>
  <pattern id="dots" patternUnits="userSpaceOnUse" width="2.4" height="2.4">
    <rect width="2.4" height="2.4" fill="#8a8a8a"/>
    <circle cx="1.2" cy="1.2" r="0.55" fill="#727272"/>
  </pattern>
  <linearGradient id="texshade" gradientUnits="userSpaceOnUse" x1="1660" y1="360" x2="1725" y2="470">
    <stop offset="0" stop-color="#000" stop-opacity="0"/>
    <stop offset="0.7" stop-color="#000" stop-opacity="0.05"/>
    <stop offset="1" stop-color="#000" stop-opacity="0.25"/>
  </linearGradient>
  <linearGradient id="poleg" gradientUnits="userSpaceOnUse" x1="1840" y1="0" x2="1875.5" y2="0">
    <stop offset="0" stop-color="#2a2a2a"/>
    <stop offset="0.06" stop-color="#101010"/>
    <stop offset="0.4" stop-color="#161616"/>
    <stop offset="0.5" stop-color="#505050"/>
    <stop offset="0.6" stop-color="#9a9a9a"/>
    <stop offset="0.72" stop-color="#d4d4d4"/>
    <stop offset="0.8" stop-color="#ececec"/>
    <stop offset="0.88" stop-color="#c4c4c4"/>
    <stop offset="0.95" stop-color="#8a8a8a"/>
    <stop offset="1" stop-color="#505050"/>
  </linearGradient>
  <linearGradient id="polelow" gradientUnits="userSpaceOnUse" x1="0" y1="840" x2="0" y2="960">
    <stop offset="0" stop-color="#fff" stop-opacity="0"/>
    <stop offset="1" stop-color="#fff" stop-opacity="0.35"/>
  </linearGradient>
  <linearGradient id="plateg" gradientUnits="userSpaceOnUse" x1="1755" y1="0" x2="1877" y2="0">
    <stop offset="0" stop-color="#707070"/>
    <stop offset="0.3" stop-color="#9a9a9a"/>
    <stop offset="0.5" stop-color="#b4b4b4"/>
    <stop offset="0.7" stop-color="#7a7a7a"/>
    <stop offset="0.85" stop-color="#9a9a9a"/>
    <stop offset="0.95" stop-color="#d8d8d8"/>
    <stop offset="1" stop-color="#888"/>
  </linearGradient>
  <linearGradient id="legtop" gradientUnits="userSpaceOnUse" x1="1745" y1="965" x2="1620" y2="1017">
    <stop offset="0" stop-color="#9a9a9a"/>
    <stop offset="0.2" stop-color="#3e3e3e"/>
    <stop offset="0.45" stop-color="#3a3a3a"/>
    <stop offset="0.75" stop-color="#4a5874"/>
    <stop offset="1" stop-color="#6078a0"/>
  </linearGradient>
  <linearGradient id="legbot" gradientUnits="userSpaceOnUse" x1="1756" y1="980" x2="1620" y2="1025">
    <stop offset="0" stop-color="#8c8c8c"/>
    <stop offset="0.3" stop-color="#d8d8d8"/>
    <stop offset="1" stop-color="#e6e6e6"/>
  </linearGradient>
  <linearGradient id="mountg" gradientUnits="userSpaceOnUse" x1="0" y1="612" x2="0" y2="671">
    <stop offset="0" stop-color="#3c3c3c"/>
    <stop offset="0.5" stop-color="#575757"/>
    <stop offset="1" stop-color="#383838"/>
  </linearGradient>
</defs>
<path d="M1655.5 337.6 C1690 363 1716 395 1724 445 C1740 468 1754 500 1761 525 C1766 540 1771 550 1777 556 L1778 706 L1768 787 L1763 792 L1757 847 C1740 870 1700 895 1657 908 L1655.5 908 Z" fill="url(#shellg)"/>
<radialGradient id="mountsh" gradientUnits="userSpaceOnUse" cx="1772" cy="640" r="60"><stop offset="0" stop-color="#000" stop-opacity="0.28"/><stop offset="1" stop-color="#000" stop-opacity="0"/></radialGradient>
<path d="M1655.5 337.6 C1690 363 1716 395 1724 445 C1740 468 1754 500 1761 525 C1766 540 1771 550 1777 556 L1778 706 L1768 787 L1763 792 L1757 847 C1740 870 1700 895 1657 908 L1655.5 908 Z" fill="url(#mountsh)"/>
<linearGradient id="uppersh" gradientUnits="userSpaceOnUse" x1="0" y1="440" x2="0" y2="600"><stop offset="0" stop-color="#000" stop-opacity="0.3"/><stop offset="1" stop-color="#000" stop-opacity="0"/></linearGradient>
<path d="M1655.5 337.6 C1690 363 1716 395 1724 445 C1740 468 1754 500 1761 525 C1766 540 1771 550 1777 556 L1778 620 L1655 620 Z" fill="url(#uppersh)"/>
<path d="M1723 446 C1733 456 1742 468 1747 480" stroke="#4a4a4a" stroke-width="3.5" fill="none"/>
<path d="M1655.5 337.6 C1690 363 1716 395 1724 445 C1727 480 1722 520 1712 555 C1700 620 1680 690 1655.5 741 Z" fill="url(#dots)"/>
<path d="M1655.5 337.6 C1690 363 1716 395 1724 445 C1727 480 1722 520 1712 555 C1700 620 1680 690 1655.5 741 Z" fill="url(#texshade)" opacity="0.5"/>
<path d="M1741 471 C1745 520 1746 570 1739 618 C1728 680 1700 800 1655.5 909" stroke="#202020" stroke-width="1" fill="none"/>
<path d="M1758.6 636 C1755 690 1745 770 1713 895" stroke="#202020" stroke-width="1" fill="none"/>
<path d="M1757 636 L1745 748" stroke="#303030" stroke-width="1" stroke-dasharray="2 2" fill="none"/>
<path d="M1779 580 L1779 720" stroke="#6a6a6a" stroke-width="3.5" fill="none"/>
<path d="M1779 580 L1779 720" stroke="#333" stroke-width="3.5" stroke-dasharray="2 1.6" fill="none"/>
<rect x="1632" y="337.6" width="23.5" height="570.4" fill="#474747"/>
<rect x="1627.7" y="879.6" width="5" height="28.4" fill="#454545"/>
<path d="M1781.6 611.6 L1801.4 616 L1801.4 666 L1781.6 670.5 Z" fill="url(#mountg)"/>
<rect x="1801.4" y="623" width="39" height="38.6" fill="#4a4a4a"/>
<rect x="1815.8" y="623" width="7" height="40" fill="#444" stroke="#333" stroke-width="0.6"/>
<path d="M1840 534 Q1840 530.5 1845 530.5 L1871 530.5 Q1875.5 530.5 1875.5 534 L1875.5 967 L1840 967 Z" fill="url(#poleg)"/>
<rect x="1840" y="840" width="35.5" height="127" fill="url(#polelow)"/>
<rect x="1839.5" y="529.5" width="36" height="6" rx="2.5" fill="#565656"/>
<path d="M1654 931.4 L1737 952.5 Q1760 957 1763 961 L1718.5 963.6 L1700 960 L1651.7 938.4 Z" fill="#a8a8a8"/>
<path d="M1718.5 963.6 L1737 955 Q1760 957 1763 961 L1757.5 966.5 L1754.7 967 Z" fill="#c6c6c6"/>
<rect x="1757.5" y="956.6" width="83" height="10" fill="#c2c2c2"/>
<path d="M1754.3 966.8 L1876.7 966.8 Q1878.5 975 1876 979 Q1874 981.2 1866 981.2 L1755 981.8 Z" fill="url(#plateg)"/>
<line x1="1755" y1="967" x2="1757" y2="981.5" stroke="#5a5a5a" stroke-width="1.2"/>
<path d="M1754.7 967 L1718.5 963.6 L1616.6 1016.6 L1622.8 1018 L1700 988.6 L1754.7 982 Z" fill="url(#legtop)"/>
<path d="M1754.7 982 L1700 988.6 L1622.8 1018 L1623.6 1028.3 L1700 1001.5 L1756 982.5 Z" fill="url(#legbot)"/>
<path d="M1616.6 1016.6 L1622.8 1018 L1623.6 1028.3 L1614 1028 Q1611 1027 1612.7 1024 Z" fill="#555"/>
<rect x="312.5" y="1207" width="1210.5" height="258.5" fill="#000" opacity="0.13" filter="url(#boxsh)"/>
<rect x="312.5" y="1207" width="1210.5" height="258.5" fill="#fff"/>
<rect x="373.8" y="1293.8" width="121.2" height="43" rx="21.5" fill="none" stroke="#170804" stroke-width="3.5"/>
<rect x="389" y="1311.8" width="91.5" height="7.8" rx="3.9" fill="none" stroke="#170804" stroke-width="1.6"/>
<line x1="395" y1="1310.2" x2="474" y2="1310.2" stroke="#170804" stroke-width="3" stroke-dasharray="5 1.6"/>
<line x1="395" y1="1320.6" x2="474" y2="1320.6" stroke="#170804" stroke-width="3" stroke-dasharray="5 1.6"/>
<rect x="562.2" y="1295.8" width="124.7" height="39.3" rx="4" fill="none" stroke="#170804" stroke-width="3.5"/>
<path d="M582.6 1297 L582.6 1310.8 L666.8 1310.8 L666.8 1297" fill="none" stroke="#170804" stroke-width="1.6"/>
<rect x="585.9" y="1310.8" width="12.3" height="4" fill="#170804"/>
<rect x="607.8" y="1310.8" width="12.3" height="4" fill="#170804"/>
<rect x="629.8" y="1310.8" width="12.3" height="4" fill="#170804"/>
<rect x="651.4" y="1310.8" width="12.3" height="4" fill="#170804"/>
<path d="M756.5 1294.7 L879 1294.7 Q882.5 1294.7 882.5 1298.2 L882.5 1331.5 Q882.5 1335 879 1335 L766.4 1335 L752.8 1321 L752.8 1298.2 Q752.8 1294.7 756.5 1294.7 Z" fill="none" stroke="#170804" stroke-width="3.5" stroke-linejoin="round"/>
<path d="M774.5 1311.8 L869.1 1311.8 L869.1 1324 L863.8 1324 L863.8 1317.8 L779.8 1317.8 L779.8 1324 L774.5 1324 Z" fill="none" stroke="#170804" stroke-width="1.5"/>
<line x1="787" y1="1310.6" x2="865" y2="1310.6" stroke="#170804" stroke-width="2" stroke-dasharray="4.2 2.2"/>
<line x1="784" y1="1319.2" x2="862" y2="1319.2" stroke="#170804" stroke-width="2" stroke-dasharray="4.2 2.2"/>
<path d="M966 1294.7 L1086 1294.7 Q1090.5 1294.7 1090.5 1299.2 L1090.5 1321 Q1090.5 1325.5 1086.5 1326.8 Q1082 1328 1079 1331.5 L1072 1339.5 Q1069.5 1341.5 1066 1341.5 L986 1341.5 Q982.5 1341.5 980.5 1339.5 L973 1331.5 Q970 1328 966 1326.8 Q961.4 1325.5 961.4 1321 L961.4 1299.2 Q961.4 1294.7 966 1294.7 Z" fill="none" stroke="#170804" stroke-width="3.5" stroke-linejoin="round"/>
<path d="M981 1314.5 L1069.5 1314.5 Q1073 1314.5 1073 1318 L1073 1319 L1070 1321.8 L980 1321.8 L977.4 1319 L977.4 1318 Q977.4 1314.5 981 1314.5 Z" fill="none" stroke="#170804" stroke-width="1.5"/>
<line x1="985" y1="1312.6" x2="1068" y2="1312.6" stroke="#170804" stroke-width="1.8" stroke-dasharray="4.2 2.2"/>
<line x1="988" y1="1323.7" x2="1066" y2="1323.7" stroke="#170804" stroke-width="1.8" stroke-dasharray="4.2 2.2"/>
<circle cx="1217.5" cy="1315.3" r="36.3" fill="none" stroke="#170804" stroke-width="3.4"/>
<circle cx="1217.5" cy="1315.3" r="23.6" fill="none" stroke="#170804" stroke-width="1.5"/>
<circle cx="1217.5" cy="1315.3" r="8.6" fill="none" stroke="#170804" stroke-width="1.5"/>
<path d="M1380 1278.6 L1433.5 1278.6 Q1435.5 1278.6 1437 1280 L1448 1291 Q1449.7 1292.7 1449.7 1295 L1449.7 1347.5 Q1449.7 1352 1445.2 1352 L1368.2 1352 Q1363.6 1352 1363.6 1347.5 L1363.6 1295 Q1363.6 1292.7 1365.3 1291 L1376.4 1280 Q1378 1278.6 1380 1278.6 Z" fill="none" stroke="#170804" stroke-width="3.4" stroke-linejoin="round"/>
<rect x="1376" y="1296.3" width="61.2" height="40.5" rx="2" fill="none" stroke="#170804" stroke-width="1.5"/>
<rect x="1387.3" y="1292.6" width="10.2" height="3.2" fill="#170804"/>
<rect x="1387.3" y="1337.4" width="10.2" height="3.2" fill="#170804"/>
<rect x="1415.8" y="1292.6" width="10.2" height="3.2" fill="#170804"/>
<rect x="1415.8" y="1337.4" width="10.2" height="3.2" fill="#170804"/>
<g fill="#050505" font-size="28.5" stroke="#fff" stroke-width="0.4">
<text x="392.6" y="1393.5" textLength="84.6" lengthAdjust="spacingAndGlyphs">USB-C</text>
<text x="564.4" y="1393.5" textLength="122.2" lengthAdjust="spacingAndGlyphs">2x USB-A</text>
<text x="729.6" y="1392.2" textLength="187.8" lengthAdjust="spacingAndGlyphs">DisplayPort 1.4</text>
<text x="970.8" y="1394.3" textLength="111" lengthAdjust="spacingAndGlyphs">HDMI 2.0</text>
<text x="1186.2" y="1393.5" textLength="63.4" lengthAdjust="spacingAndGlyphs">Jack</text>
<text x="1364" y="1393.5" textLength="85.4" lengthAdjust="spacingAndGlyphs">USB-B</text>
</g></svg>
</body></html>
